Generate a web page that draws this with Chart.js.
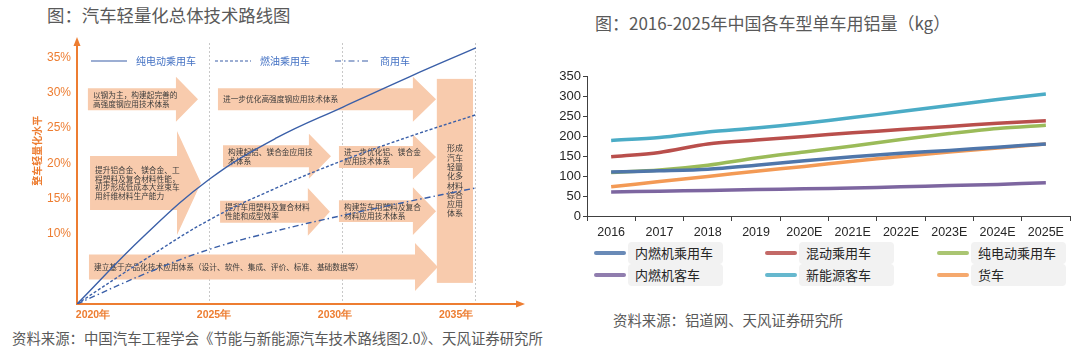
<!DOCTYPE html>
<html>
<head>
<meta charset="utf-8">
<script src="https://cdn.jsdelivr.net/npm/chart.js@4.4.1/dist/chart.umd.min.js"></script>
<style>
  body { margin: 0; background: #fff; width: 1080px; height: 351px; overflow: hidden; position: relative;
         font-family: "Noto Sans CJK SC", "Noto Sans", sans-serif; }
  .abs { position: absolute; white-space: nowrap; line-height: 1; }
  #leftTitle { left: 47px; top: 6px; font-size: 17.4px; color: #595959; }
  #rightTitle { left: 595px; top: 14px; font-size: 17px; color: #595959; }
  #leftSource { left: 12px; top: 331px; font-size: 14.4px; color: #595959; }
  #rightSource { left: 613px; top: 313px; font-size: 14.4px; color: #595959; }
  #roadmap { position: absolute; left: 0; top: 0; }
  #alu { position: absolute; left: 540px; top: 50px; }
  .lgLine { position: absolute; height: 4px; width: 32px; border-radius: 2px; }
  .lgBox { position: absolute; height: 22px; line-height: 22px; width: 95px; background: #F2F2F2;
           border-radius: 4px; font-size: 13px; color: #262626; padding-left: 7px; box-sizing: border-box; }
</style>
</head>
<body>
<div class="abs" id="leftTitle">图：汽车轻量化总体技术路线图</div>
<div class="abs" id="rightTitle">图：2016-2025年中国各车型单车用铝量（kg）</div>
<canvas id="roadmap" width="540" height="325"></canvas>
<canvas id="alu" width="540" height="190"></canvas>
<div id="legend"></div>
<div class="abs" id="leftSource">资料来源：中国汽车工程学会《节能与新能源汽车技术路线图2.0》、天风证券研究所</div>
<div class="abs" id="rightSource">资料来源：铝道网、天风证券研究所</div>
<script>
// ---- left: roadmap curves (整车轻量化水平, %)
const roadmapYears = [2020, 2022.5, 2025, 2027.5, 2030, 2032.5, 2035];
const evPassenger = [0, 9.6, 17.8, 23.6, 28.0, 32.3, 36.4];
const fuelPassenger = [0, 6.2, 12.0, 16.5, 20.4, 23.8, 26.9];
const commercial = [0, 4.2, 7.8, 10.4, 12.6, 14.6, 16.5];
const roadmapSeries = ['纯电动乘用车', '燃油乘用车', '商用车'];
const levelTicks = [10, 15, 20, 25, 30, 35];
const milestoneYears = [2020, 2025, 2030, 2035];

// ---- right: 单车用铝量 (kg)
const years = ['2016', '2017', '2018', '2019', '2020E', '2021E', '2022E', '2023E', '2024E', '2025E'];
const iceCar = [110, 113, 117, 127, 138, 148, 157, 164, 172, 180];
const hybridCar = [148, 159, 180, 190, 199, 208, 216, 224, 232, 238];
const evCar = [109, 115, 127, 145, 160, 175, 191, 206, 219, 227];
const iceBus = [60, 62, 64, 66, 68, 70, 73, 76, 79, 83];
const neBus = [189, 196, 210, 220, 232, 246, 261, 276, 291, 305];
const truck = [73, 86, 99, 112, 124, 137, 149, 160, 170, 180];
const seriesNames = ['内燃机乘用车', '混动乘用车', '纯电动乘用车', '内燃机客车', '新能源客车', '货车'];
const aluTicks = [0, 50, 100, 150, 200, 250, 300, 350];

// roadmap boxes, in axis units (year, %)
const roadmapArrows = [
  { from: 2020.41, neck: 2023.72, to: 2024.55, level: 29.1, body: 1.56, head: 3.2,
    lines: ['以钢为主，构建起完善的', '高强度钢应用技术体系'] },
  { from: 2025.30, neck: 2032.63, to: 2033.50, level: 29.1, body: 1.56, head: 3.2,
    lines: ['进一步优化高强度钢应用技术体系'] },
  { from: 2020.49, neck: 2023.76, to: 2024.66, level: 17.2, body: 3.84, head: 7.4, lh: 8.5,
    lines: ['提升铝合金、镁合金、工', '程塑料及复合材料性能，', '初步形成低成本大丝束车', '用纤维材料生产能力'] },
  { from: 2025.49, neck: 2028.72, to: 2029.55, level: 21.0, body: 1.56, head: 3.2,
    lines: ['构建起铝、镁合金应用技', '术体系'] },
  { from: 2029.85, neck: 2032.63, to: 2033.50, level: 20.9, body: 1.56, head: 3.2,
    lines: ['进一步优化铝、镁合金', '应用技术体系'] },
  { from: 2025.38, neck: 2028.68, to: 2029.51, level: 13.1, body: 1.56, head: 3.4,
    lines: ['提升车用塑料及复合材料', '性能和成型效率'] },
  { from: 2029.85, neck: 2032.63, to: 2033.50, level: 13.2, body: 1.56, head: 3.4,
    lines: ['构建货车用塑料及复合', '材料应用技术体系'] },
  { from: 2020.45, neck: 2032.71, to: 2033.57, level: 5.26, body: 1.78, head: 3.41,
    lines: ['建立基于产品化技术应用体系（设计、软件、集成、评价、标准、基础数据等）'] }
];
const goalBox = { from: 2033.53, to: 2034.89, top: 32.0, bottom: 3.0,
  lines: ['形成', '汽车', '轻量', '化多', '材料', '综合', '应用', '体系'] };

const orange = '#ED7D31';
const roadBlue = '#3A5FA8';
const peach = '#F8CBAD';
const dashes = [[], [3, 2], [6, 3, 1.5, 3]];
const cjk = '"Noto Sans CJK SC", sans-serif';

Chart.defaults.font.family = '"Liberation Sans", Arial, sans-serif';

const roadmapDecor = {
  id: 'roadmapDecor',
  beforeDatasetsDraw(chart) {
    const { ctx, scales: { x, y } } = chart;
    ctx.save();
    ctx.fillStyle = peach;
    roadmapArrows.forEach(a => {
      const x0 = x.getPixelForValue(a.from), x1 = x.getPixelForValue(a.neck), x2 = x.getPixelForValue(a.to);
      const yc = y.getPixelForValue(a.level);
      const bh = y.getPixelForValue(a.level - a.body) - yc;
      const hh = y.getPixelForValue(a.level - a.head) - yc;
      ctx.beginPath();
      ctx.moveTo(x0, yc - bh);
      ctx.lineTo(x1, yc - bh);
      ctx.lineTo(x1, yc - hh);
      ctx.lineTo(x2, yc);
      ctx.lineTo(x1, yc + hh);
      ctx.lineTo(x1, yc + bh);
      ctx.lineTo(x0, yc + bh);
      ctx.closePath();
      ctx.fill();
    });
    const bx0 = x.getPixelForValue(goalBox.from), bx1 = x.getPixelForValue(goalBox.to);
    const by0 = y.getPixelForValue(goalBox.top), by1 = y.getPixelForValue(goalBox.bottom);
    ctx.fillRect(bx0, by0, bx1 - bx0, by1 - by0);

    ctx.fillStyle = '#3c3c3c';
    ctx.font = '7.7px ' + cjk;
    ctx.textBaseline = 'middle';
    ctx.textAlign = 'left';
    roadmapArrows.forEach(a => {
      const tx = x.getPixelForValue(a.from) + 5;
      const yc = y.getPixelForValue(a.level);
      const lh = a.lh || 9;
      a.lines.forEach((t, i) => ctx.fillText(t, tx, yc + (i - (a.lines.length - 1) / 2) * lh));
    });
    ctx.font = '8px ' + cjk;
    ctx.textAlign = 'center';
    const gc = (by0 + by1) / 2;
    goalBox.lines.forEach((t, i) => ctx.fillText(t, (bx0 + bx1) / 2, gc + (i - 3.5) * 9.3));
    ctx.restore();
  },
  afterDraw(chart) {
    const { ctx, chartArea: ca } = chart;
    ctx.save();
    // axis arrowheads
    ctx.fillStyle = orange;
    ctx.beginPath();
    ctx.moveTo(ca.left, ca.top - 6); ctx.lineTo(ca.left - 3.5, ca.top + 3); ctx.lineTo(ca.left + 3.5, ca.top + 3);
    ctx.closePath(); ctx.fill();
    ctx.beginPath();
    ctx.moveTo(ca.right + 6, ca.bottom); ctx.lineTo(ca.right - 3, ca.bottom - 3.5); ctx.lineTo(ca.right - 3, ca.bottom + 3.5);
    ctx.closePath(); ctx.fill();
    // y title
    ctx.translate(ca.left - 40, chart.scales.y.getPixelForValue(21.8));
    ctx.rotate(-Math.PI / 2);
    ctx.font = 'bold 10px ' + cjk;
    ctx.textAlign = 'center';
    ctx.textBaseline = 'middle';
    ctx.fillText('整车轻量化水平', 0, 0);
    ctx.setTransform(1, 0, 0, 1, 0, 0);
    // series key
    const ly = ca.top + 18;
    const keyX = [14, 138, 258];
    ctx.strokeStyle = roadBlue;
    ctx.fillStyle = '#4472C4';
    ctx.lineWidth = 1.2;
    ctx.font = '10px ' + cjk;
    ctx.textAlign = 'left';
    roadmapSeries.forEach((name, i) => {
      const sx = ca.left + keyX[i];
      ctx.setLineDash(dashes[i]);
      ctx.beginPath(); ctx.moveTo(sx, ly); ctx.lineTo(sx + 36, ly); ctx.stroke();
      ctx.fillText(name, sx + 45, ly);
    });
    ctx.restore();
  }
};

const curveData = [evPassenger, fuelPassenger, commercial];
new Chart(document.getElementById('roadmap'), {
  type: 'line',
  data: {
    datasets: roadmapSeries.map((name, i) => ({
      label: name,
      data: roadmapYears.map((yr, k) => ({ x: yr, y: curveData[i][k] })),
      borderColor: roadBlue,
      borderWidth: 1.4,
      borderDash: dashes[i],
      pointRadius: 0,
      tension: 0.4,
      xAxisID: 'x'
    }))
  },
  options: {
    responsive: false,
    animation: false,
    events: [],
    layout: { padding: { left: 0, top: 43, right: 21, bottom: 1 } },
    plugins: { legend: { display: false }, tooltip: { enabled: false } },
    scales: {
      x: {
        type: 'linear', position: 'bottom', min: 2020, max: 2036.62,
        afterBuildTicks: s => { s.ticks = milestoneYears.map(v => ({ value: v })); },
        afterFit: s => { s.height = 0; },
        ticks: { display: false },
        grid: { drawTicks: false, lineWidth: 1,
                color: c => (c.tick && c.tick.value === 2020) ? 'rgba(0,0,0,0)' : '#C8C8C8' },
        border: { color: orange, width: 2, dash: [2, 2] }
      },
      xLab: {
        type: 'linear', position: 'bottom', min: 2019.34, max: 2037.6,
        afterBuildTicks: s => { s.ticks = milestoneYears.map(v => ({ value: v })); },
        afterFit: s => { s.height = 20; },
        grid: { display: false, drawTicks: false },
        border: { display: false },
        ticks: { color: orange, padding: 5, maxRotation: 0, autoSkip: false,
                 font: { size: 10.5, weight: 'bold' }, callback: v => v + '年' }
      },
      y: {
        min: 0, max: 37.1,
        afterBuildTicks: s => { s.ticks = levelTicks.map(v => ({ value: v })); },
        afterFit: s => { s.width = 77; },
        grid: { display: false, drawTicks: false },
        border: { color: orange, width: 2 },
        ticks: { color: orange, padding: 6, font: { size: 12 }, callback: v => v + '%' }
      }
    }
  },
  plugins: [roadmapDecor]
});

// ---- right chart
const aluColors = ['#4F76AA', '#B94F4C', '#9BBB59', '#7D66A0', '#4BACC6', '#F39A55'];
const aluData = [iceCar, hybridCar, evCar, iceBus, neBus, truck];
new Chart(document.getElementById('alu'), {
  type: 'line',
  data: {
    labels: years,
    datasets: seriesNames.map((name, i) => ({
      label: name,
      data: aluData[i],
      borderColor: aluColors[i],
      borderWidth: 3.5,
      pointRadius: 0,
      tension: 0.3
    }))
  },
  options: {
    responsive: false,
    animation: false,
    events: [],
    layout: { padding: { left: 0, top: 26, right: 10, bottom: 0 } },
    plugins: { legend: { display: false }, tooltip: { enabled: false } },
    scales: {
      x: {
        offset: true,
        afterFit: s => { s.height = 24; },
        grid: { offset: true, drawOnChartArea: false, tickLength: 5, color: '#404040' },
        border: { color: '#404040', width: 1 },
        ticks: { color: '#262626', padding: 4, maxRotation: 0, autoSkip: false, font: { size: 12.5 } }
      },
      y: {
        min: 0, max: 350,
        afterBuildTicks: s => { s.ticks = aluTicks.map(v => ({ value: v })); },
        afterFit: s => { s.width = 47; },
        grid: { drawOnChartArea: false, tickLength: 4, color: '#404040' },
        border: { color: '#404040', width: 1 },
        ticks: { color: '#262626', padding: 2, font: { size: 13 } }
      }
    }
  }
});

// legend for the right chart
const legendCols = [594, 765, 937];
const legendRows = [242, 264];
const legendEl = document.getElementById('legend');
seriesNames.forEach((name, i) => {
  const lx = legendCols[i % 3], ty = legendRows[Math.floor(i / 3)];
  const line = document.createElement('div');
  line.className = 'lgLine';
  line.style.left = lx + 'px';
  line.style.top = (ty + 9) + 'px';
  line.style.background = aluColors[i];
  line.style.opacity = '0.85';
  const box = document.createElement('div');
  box.className = 'lgBox';
  box.style.left = (lx + 34) + 'px';
  box.style.top = ty + 'px';
  box.textContent = name;
  legendEl.appendChild(line);
  legendEl.appendChild(box);
});
</script>
</body>
</html>
